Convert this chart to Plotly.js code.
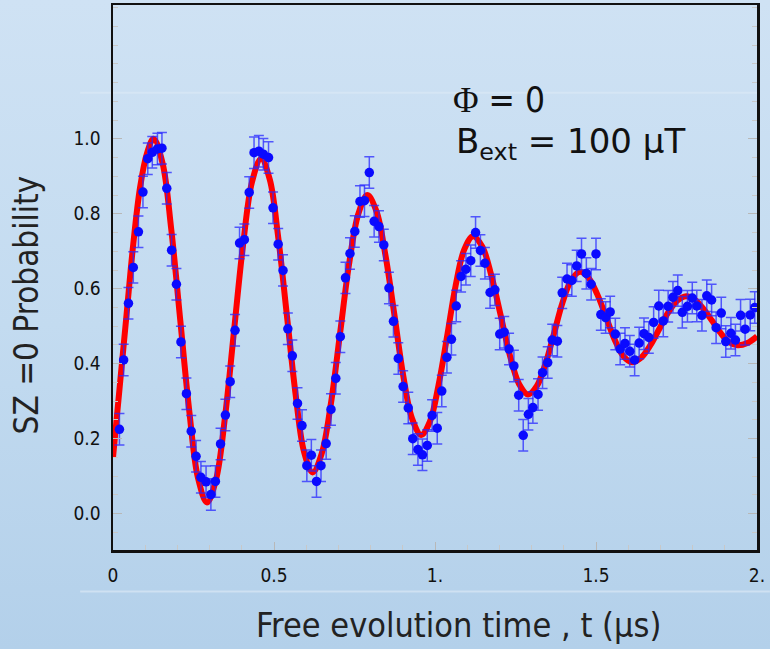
<!DOCTYPE html>
<html>
<head>
<meta charset="utf-8">
<script src="https://cdn.plot.ly/plotly-3.0.1.min.js"></script>
<style>
  html, body { margin: 0; padding: 0; }
  body { width: 770px; height: 649px; background: linear-gradient(to bottom, #cfe2f4 0%, #c3dbf0 50%, #b3d0ea 100%); }
  #chart { width: 770px; height: 649px; }
</style>
</head>
<body>
<div id="chart"></div>
<script>
// Measured data points: free evolution time (µs) and Sz=0 probability
const dataTime = [0.020,0.033,0.048,0.063,0.079,0.093,0.108,0.122,0.138,0.152,0.167,0.182,0.197,0.211,0.228,0.243,0.258,0.273,0.289,0.304,0.318,0.334,0.349,0.364,0.379,0.393,0.408,0.423,0.438,0.453,0.467,0.483,0.497,0.513,0.528,0.543,0.557,0.573,0.587,0.602,0.616,0.632,0.646,0.662,0.677,0.692,0.706,0.722,0.736,0.751,0.767,0.781,0.796,0.811,0.826,0.841,0.857,0.871,0.886,0.901,0.917,0.931,0.947,0.961,0.976,0.991,1.007,1.021,1.037,1.051,1.066,1.081,1.096,1.111,1.126,1.141,1.155,1.171,1.186,1.201,1.215,1.230,1.245,1.260,1.274,1.290,1.304,1.320,1.334,1.350,1.364,1.380,1.395,1.410,1.425,1.440,1.455,1.470,1.485,1.500,1.515,1.530,1.544,1.560,1.575,1.590,1.605,1.620,1.634,1.649,1.664,1.679,1.695,1.709,1.724,1.739,1.754,1.768,1.784,1.799,1.813,1.829,1.844,1.859,1.873,1.889,1.903,1.919,1.933,1.949,1.963,1.979,1.993];
const dataProb = [0.225,0.41,0.561,0.657,0.752,0.858,0.947,0.964,0.973,0.975,0.868,0.703,0.612,0.458,0.32,0.22,0.153,0.097,0.085,0.051,0.086,0.186,0.263,0.352,0.489,0.722,0.731,0.857,0.963,0.967,0.959,0.95,0.816,0.719,0.649,0.493,0.421,0.294,0.235,0.128,0.156,0.086,0.128,0.187,0.278,0.361,0.472,0.629,0.694,0.753,0.833,0.835,0.91,0.78,0.766,0.717,0.602,0.513,0.414,0.339,0.282,0.2,0.171,0.157,0.182,0.262,0.228,0.327,0.417,0.465,0.554,0.633,0.652,0.675,0.75,0.702,0.668,0.59,0.597,0.479,0.484,0.439,0.394,0.316,0.209,0.265,0.283,0.318,0.376,0.403,0.463,0.46,0.589,0.626,0.622,0.661,0.693,0.641,0.612,0.693,0.531,0.523,0.538,0.479,0.439,0.454,0.433,0.41,0.455,0.48,0.47,0.51,0.554,0.514,0.553,0.577,0.595,0.537,0.553,0.575,0.554,0.529,0.581,0.57,0.496,0.535,0.459,0.481,0.463,0.529,0.492,0.53,0.55];
const dataErr = 0.042;

// Fit curve
const fitTime = [0,0.021,0.042,0.063,0.084,0.105,0.126,0.154,0.181,0.209,0.237,0.264,0.292,0.320,0.348,0.376,0.404,0.432,0.46,0.487,0.513,0.540,0.567,0.593,0.62,0.648,0.677,0.705,0.733,0.762,0.79,0.818,0.846,0.874,0.901,0.929,0.957,0.984,1.011,1.038,1.064,1.091,1.118,1.147,1.175,1.204,1.232,1.261,1.289,1.316,1.343,1.370,1.396,1.423,1.45,1.477,1.504,1.531,1.558,1.585,1.612,1.64,1.668,1.696,1.724,1.752,1.78,1.807,1.833,1.86,1.887,1.913,1.94,1.97,2.0];
const fitProb = [0.15,0.34,0.53,0.72,0.87,0.96,1.0,0.935,0.758,0.515,0.273,0.095,0.03,0.091,0.259,0.489,0.718,0.886,0.947,0.891,0.738,0.529,0.319,0.166,0.11,0.16,0.295,0.48,0.665,0.80,0.85,0.807,0.69,0.53,0.37,0.253,0.21,0.245,0.343,0.475,0.608,0.705,0.74,0.712,0.635,0.529,0.424,0.346,0.318,0.34,0.40,0.482,0.563,0.623,0.645,0.629,0.585,0.525,0.464,0.42,0.404,0.416,0.448,0.492,0.536,0.568,0.58,0.571,0.547,0.515,0.482,0.458,0.449,0.455,0.473];

const yTickVals = [0, 0.2, 0.4, 0.6, 0.8, 1.0];
const yTickText = ["0.0", "0.2", "0.4", "0.6", "0.8", "1.0"];
const xTickVals = [0, 0.5, 1, 1.5, 2];
const xTickText = ["0", "0.5", "1.", "1.5", "2."];

const xTitle = "Free evolution time , t (μs)";
const yTitle = "SZ =0 Probability";

const condensed = "DejaVu Sans Condensed, DejaVu Sans, sans-serif";
const tickFont = {family: condensed, size: 19, color: "#111"};

const traces = [
  {
    x: fitTime, y: fitProb, type: "scatter", mode: "lines",
    line: {color: "#ff0000", width: 6, shape: "spline", smoothing: 1},
    hoverinfo: "skip", showlegend: false
  },
  {
    x: dataTime, y: dataProb, type: "scatter", mode: "markers",
    marker: {color: "#0a0aff", size: 9.5},
    error_y: {type: "constant", value: dataErr, color: "rgba(40,40,255,0.75)", thickness: 1.5, width: 5},
    showlegend: false
  }
];

const layout = {
  width: 770, height: 649,
  margin: {l: 113, r: 13, t: 5, b: 99},
  paper_bgcolor: "rgba(0,0,0,0)",
  plot_bgcolor: "rgba(0,0,0,0)",
  showlegend: false,
  xaxis: {
    range: [0, 2], tickmode: "array", tickvals: xTickVals, ticktext: xTickText,
    ticks: "inside", ticklen: 8, tickcolor: "#b8b8b8", tickwidth: 1,
    minor: {ticks: "inside", ticklen: 5, tickcolor: "#c8c8c8", tickwidth: 1, tick0: 0, dtick: 0.1},
    showline: true, linecolor: "#111", linewidth: 2.5, mirror: true,
    showgrid: false, zeroline: false,
    tickfont: tickFont, ticklabelstandoff: 7
  },
  yaxis: {
    range: [-0.097, 1.357], tickmode: "array", tickvals: yTickVals, ticktext: yTickText,
    ticks: "inside", ticklen: 9, tickcolor: "#b8b8b8", tickwidth: 1,
    minor: {ticks: "inside", ticklen: 5, tickcolor: "#c8c8c8", tickwidth: 1, tick0: 0, dtick: 0.05},
    showline: true, linecolor: "#111", linewidth: 2.5, mirror: "ticks",
    showgrid: false, zeroline: false,
    tickfont: tickFont, ticklabelstandoff: 6
  },
  annotations: [
    {xref: "paper", yref: "paper", x: 0.537, y: -0.137, xanchor: "center", yanchor: "middle", showarrow: false,
     text: xTitle, font: {family: condensed, size: 34, color: "#222"}},
    {xref: "paper", yref: "paper", x: -0.134, y: 0.45, xanchor: "center", yanchor: "middle", showarrow: false,
     textangle: -90, text: yTitle, font: {family: condensed, size: 33, color: "#222"}},
    {xref: "paper", yref: "paper", x: 0.599, y: 0.826, xanchor: "center", yanchor: "middle", showarrow: false,
     text: "<span style=\"font-family:Liberation Serif\">Φ</span> = 0",
     font: {family: condensed, size: 35, color: "#111"}},
    {xref: "paper", yref: "paper", x: 0.711, y: 0.745, xanchor: "center", yanchor: "middle", showarrow: false,
     text: "B<sub>ext</sub> = 100 μT",
     font: {family: "DejaVu Sans, sans-serif", size: 34, color: "#111"}}
  ],
  shapes: [
    {type: "line", xref: "paper", yref: "paper", x0: -0.051, x1: 1.02, y0: -0.076, y1: -0.076, line: {color: "rgba(255,255,255,0.35)", width: 2}, layer: "below"},
    {type: "line", xref: "paper", yref: "paper", x0: -0.051, x1: 1.0, y0: 0.839, y1: 0.839, line: {color: "rgba(255,255,255,0.2)", width: 2}, layer: "below"}
  ]
};

Plotly.newPlot("chart", traces, layout, {displayModeBar: false, staticPlot: true});
</script>
</body>
</html>
